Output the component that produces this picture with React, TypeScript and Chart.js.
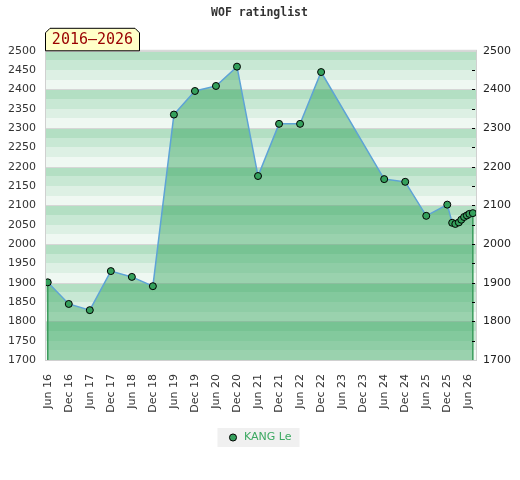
import React, { useEffect, useRef } from "react";
import { Chart, registerables } from "chart.js";

Chart.register(...registerables);

const chartTitle = "WOF ratinglist";
const periodLabel = "2016–2026";
const playerName = "KANG Le";

// x tick labels every 6 months starting Jun 2016
const xTickLabels = [
  "Jun 16", "Dec 16", "Jun 17", "Dec 17", "Jun 18", "Dec 18", "Jun 19",
  "Dec 19", "Jun 20", "Dec 20", "Jun 21", "Dec 21", "Jun 22", "Dec 22",
  "Jun 23", "Dec 23", "Jun 24", "Dec 24", "Jun 25", "Dec 25", "Jun 26",
];

// months since Jun 2016
const monthsSinceJun16 = [
  0, 6, 12, 18, 24, 30, 36, 42, 48, 54, 60, 66, 72, 78, 96, 102, 108, 114,
  115.4, 116.3, 117.3, 118, 118.8, 119.6, 120.3, 121.3,
];
const ratings = [
  1901, 1845, 1829, 1930, 1915, 1891, 2335, 2396, 2409, 2459, 2176, 2311,
  2311, 2445, 2168, 2161, 2073, 2102, 2055, 2052, 2056, 2063, 2070, 2074,
  2078, 2080,
];

const yMin = 1700;
const yMax = 2500;
const xMin = -0.5;
const xMax = 122.2;

const stripeColors = ["#b3dfc3", "#c8e8d4", "#ddf0e4", "#eff8f2"];
const pointColor = "#35a05c";
const lineColor = "#5ea3d6";
const fillColor = "rgba(35,157,80,0.42)";
const edgeColor = "#3f9c5e";
const axisFont = { family: "'DejaVu Sans', sans-serif", size: 11 };

const decorPlugin = {
  id: "decor",
  beforeDraw(chart: any) {
    const lg = chart.legend;
    if (lg && lg.legendHitBoxes && lg.legendHitBoxes.length) {
      const b = lg.legendHitBoxes[0];
      const ctx = chart.ctx;
      ctx.save();
      ctx.fillStyle = "#f0f0f0";
      ctx.fillRect(b.left - 10, b.top - 4, b.width + 18, b.height + 8);
      ctx.restore();
    }
  },
  beforeDatasetsDraw(chart: any) {
    const { ctx, chartArea: a, scales } = chart;
    const y = scales.y;
    const x = scales.x;
    ctx.save();
    // stripes
    for (let v = yMax, i = 0; v > yMin; v -= 25, i++) {
      const top = Math.round(y.getPixelForValue(v));
      const bot = Math.round(y.getPixelForValue(v - 25));
      ctx.fillStyle = stripeColors[i % 4];
      ctx.fillRect(a.left, top, a.right - a.left, bot - top);
    }
    // grid lines every 100
    ctx.strokeStyle = "#d6d6d6";
    ctx.lineWidth = 1;
    for (let v = yMin; v <= yMax; v += 100) {
      const py = Math.round(y.getPixelForValue(v)) + 0.5;
      ctx.beginPath();
      ctx.moveTo(a.left, py);
      ctx.lineTo(a.right, py);
      ctx.stroke();
    }
    // border
    ctx.strokeStyle = "#d0d0d0";
    ctx.strokeRect(a.left - 0.5, a.top - 0.5, a.right - a.left + 1, a.bottom - a.top + 1);
    // vertical edge lines of the filled area
    ctx.strokeStyle = edgeColor;
    ctx.lineWidth = 1.5;
    const n = monthsSinceJun16.length;
    [0, n - 1].forEach((i) => {
      const px = x.getPixelForValue(monthsSinceJun16[i]);
      ctx.beginPath();
      ctx.moveTo(px, y.getPixelForValue(ratings[i]));
      ctx.lineTo(px, a.bottom);
      ctx.stroke();
    });
    ctx.restore();
  },
  afterDatasetsDraw(chart: any) {
    const { ctx, chartArea: a, scales } = chart;
    const y = scales.y;
    ctx.save();
    // right side tick marks (inside)
    ctx.strokeStyle = "#000";
    ctx.lineWidth = 1;
    for (let v = yMin + 50; v < yMax; v += 50) {
      const py = Math.round(y.getPixelForValue(v)) + 0.5;
      ctx.beginPath();
      ctx.moveTo(a.right - 4, py);
      ctx.lineTo(a.right - 1, py);
      ctx.stroke();
    }
    // period label box
    const left = a.left - 1;
    const right = left + 95;
    const bottom = a.top;
    const top = bottom - 23;
    const c = 5;
    ctx.beginPath();
    ctx.moveTo(left + 0.5, bottom);
    ctx.lineTo(left + 0.5, top + c);
    ctx.lineTo(left + c, top + 0.5);
    ctx.lineTo(right - c, top + 0.5);
    ctx.lineTo(right - 0.5, top + c);
    ctx.lineTo(right - 0.5, bottom);
    ctx.closePath();
    ctx.fillStyle = "#ffffc8";
    ctx.fill();
    ctx.strokeStyle = "#000";
    ctx.stroke();
    ctx.fillStyle = "#990000";
    ctx.font = "15px 'DejaVu Sans Mono', monospace";
    ctx.textAlign = "center";
    ctx.textBaseline = "middle";
    ctx.fillText(periodLabel, (left + right) / 2, top + 12.5);
    ctx.restore();
  },
};

export default function App() {
  const canvasRef = useRef<HTMLCanvasElement | null>(null);

  useEffect(() => {
    const canvas = canvasRef.current;
    if (!canvas) return;
    const data = monthsSinceJun16.map((m, i) => ({ x: m, y: ratings[i] }));
    const chart = new Chart(canvas, {
      type: "line",
      data: {
        datasets: [
          {
            label: playerName,
            data,
            borderColor: lineColor,
            borderWidth: 1.5,
            backgroundColor: fillColor,
            fill: "start",
            tension: 0,
            pointRadius: 3.5,
            pointBackgroundColor: pointColor,
            pointBorderColor: "#000",
            pointBorderWidth: 1,
            yAxisID: "y",
          },
        ],
      },
      options: {
        animation: false,
        responsive: true,
        maintainAspectRatio: false,
        layout: { padding: { left: 8, right: 9, top: 0, bottom: 27 } },
        plugins: {
          title: {
            display: true,
            text: chartTitle,
            color: "#333",
            font: { family: "'DejaVu Sans Mono', monospace", size: 11.5, weight: "bold" },
            padding: { top: 6, bottom: 31 },
          },
          legend: {
            display: true,
            position: "bottom",
            labels: {
              usePointStyle: true,
              boxWidth: 11,
              boxHeight: 5,
              padding: 17,
              color: "#3aa860",
              font: axisFont,
              generateLabels: () => [
                {
                  text: playerName,
                  fillStyle: pointColor,
                  strokeStyle: "#000",
                  lineWidth: 1,
                  pointStyle: "circle",
                  fontColor: "#3aa860",
                  hidden: false,
                  datasetIndex: 0,
                },
              ],
            },
          },
          tooltip: { enabled: false },
        },
        scales: {
          x: {
            type: "linear",
            min: xMin,
            max: xMax,
            grid: { display: false, drawTicks: false },
            border: { display: false },
            afterBuildTicks: (scale: any) => {
              scale.ticks = xTickLabels.map((_, i) => ({ value: i * 6 }));
            },
            afterFit: (scale: any) => {
              scale.height = 55;
            },
            ticks: {
              color: "#333",
              font: axisFont,
              maxRotation: 90,
              minRotation: 90,
              padding: 14,
              autoSkip: false,
              callback: (v: any) => xTickLabels[Math.round(Number(v) / 6)] ?? "",
            },
          },
          y: {
            position: "left",
            min: yMin,
            max: yMax,
            grid: { display: false, drawTicks: false },
            border: { display: false },
            afterFit: (scale: any) => {
              scale.width = 38;
            },
            ticks: {
              stepSize: 50,
              color: "#333",
              font: axisFont,
              padding: 10,
              callback: (v: any) => String(v),
            },
          },
          y1: {
            position: "right",
            min: yMin,
            max: yMax,
            grid: { display: false, drawTicks: false },
            border: { display: false },
            afterFit: (scale: any) => {
              scale.width = 35;
            },
            ticks: {
              stepSize: 100,
              color: "#222",
              font: axisFont,
              padding: 7,
              callback: (v: any) => String(v),
            },
          },
        },
      },
      plugins: [decorPlugin],
    } as any);
    return () => chart.destroy();
  }, []);

  return (
    <div style={{ position: "absolute", left: 0, top: 0, width: 520, height: 480 }}>
      <canvas ref={canvasRef} />
    </div>
  );
}
